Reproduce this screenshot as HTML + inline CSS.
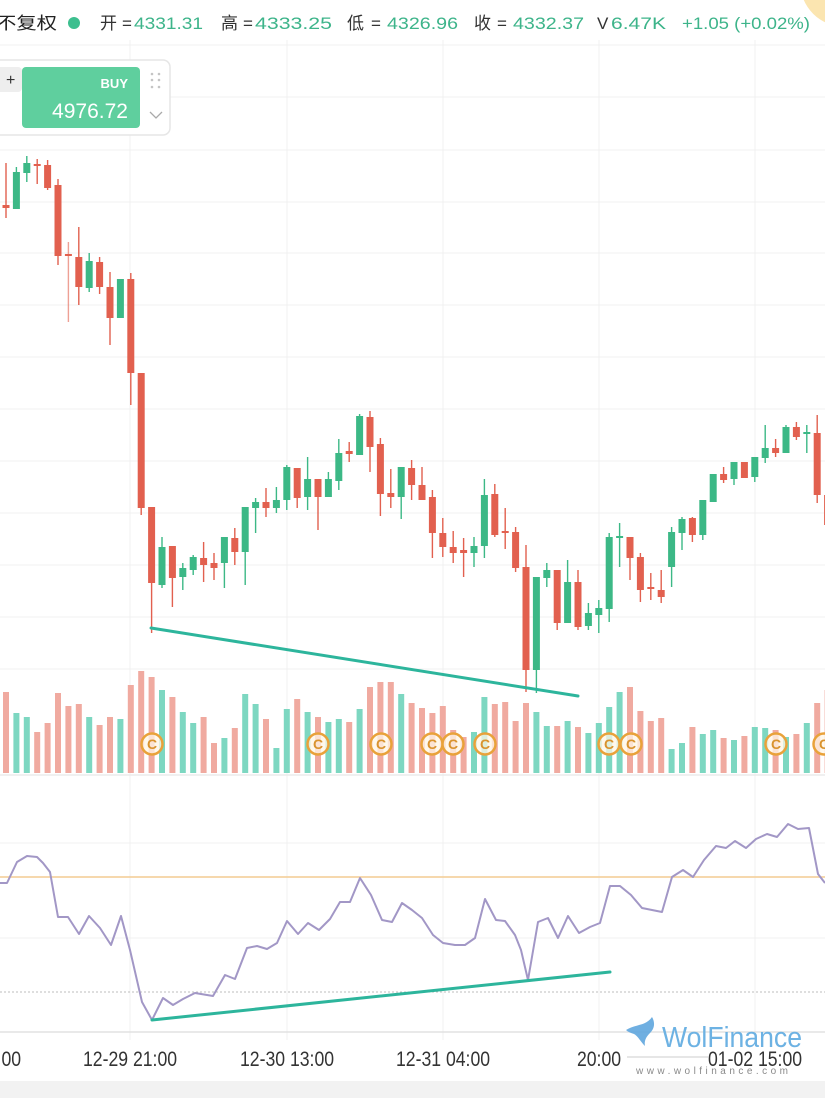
<!DOCTYPE html>
<html><head><meta charset="utf-8"><style>
html,body{margin:0;padding:0;background:#fff;}
body{width:825px;height:1098px;overflow:hidden;}
svg{display:block;}
.r{fill:#e2604f}.g{fill:#3cb886}
.vr{fill:#f0aaa0}.vg{fill:#7dd7c1}
.t{font-family:"Liberation Sans","Noto Sans CJK SC",sans-serif;}
</style></head><body>
<svg width="825" height="1098" viewBox="0 0 825 1098" xmlns="http://www.w3.org/2000/svg">
<rect width="825" height="1098" fill="#fff"/>
<!-- grid -->
<g stroke="#f1f1f1" stroke-width="1">
<line x1="0" y1="45" x2="825" y2="45"/><line x1="0" y1="97" x2="825" y2="97"/><line x1="0" y1="150" x2="825" y2="150"/><line x1="0" y1="202" x2="825" y2="202"/><line x1="0" y1="253" x2="825" y2="253"/><line x1="0" y1="305" x2="825" y2="305"/><line x1="0" y1="357" x2="825" y2="357"/><line x1="0" y1="409" x2="825" y2="409"/><line x1="0" y1="461" x2="825" y2="461"/><line x1="0" y1="513" x2="825" y2="513"/><line x1="0" y1="565" x2="825" y2="565"/><line x1="0" y1="617" x2="825" y2="617"/><line x1="0" y1="669" x2="825" y2="669"/>
<line x1="0" y1="843" x2="825" y2="843"/><line x1="0" y1="938" x2="825" y2="938"/>
<line x1="130" y1="40" x2="130" y2="1040"/><line x1="287" y1="40" x2="287" y2="1040"/><line x1="443" y1="40" x2="443" y2="1040"/><line x1="599" y1="40" x2="599" y2="1040"/><line x1="755" y1="40" x2="755" y2="1040"/>
</g>
<line x1="0" y1="775" x2="825" y2="775" stroke="#ebebeb" stroke-width="1.5"/>
<line x1="0" y1="1032" x2="825" y2="1032" stroke="#e2e2e2" stroke-width="1.5"/>

<!-- yellow corner -->
<circle cx="845" cy="-18" r="45" fill="#fbe5b0"/>

<!-- header -->
<g class="t" font-size="17">
<text x="-4" y="29" fill="#222" textLength="61" lengthAdjust="spacingAndGlyphs">不复权</text>
<circle cx="74" cy="23" r="6" fill="#3dbf8f"/>
<text x="100" y="29" fill="#333">开</text><text x="122" y="29" fill="#333">=</text>
<text x="134" y="29" fill="#3db48a" textLength="69" lengthAdjust="spacingAndGlyphs">4331.31</text>
<text x="221" y="29" fill="#333">高</text><text x="243" y="29" fill="#333">=</text>
<text x="255" y="29" fill="#3db48a" textLength="77" lengthAdjust="spacingAndGlyphs">4333.25</text>
<text x="347" y="29" fill="#333">低</text><text x="371" y="29" fill="#333">=</text>
<text x="387" y="29" fill="#3db48a" textLength="71" lengthAdjust="spacingAndGlyphs">4326.96</text>
<text x="474" y="29" fill="#333">收</text><text x="497" y="29" fill="#333">=</text>
<text x="513" y="29" fill="#3db48a" textLength="71" lengthAdjust="spacingAndGlyphs">4332.37</text>
<text x="597" y="29" fill="#333">V</text>
<text x="611" y="29" fill="#3db48a" textLength="55" lengthAdjust="spacingAndGlyphs">6.47K</text>
<text x="682" y="29" fill="#3db48a" textLength="128" lengthAdjust="spacingAndGlyphs">+1.05 (+0.02%)</text>
</g>

<!-- BUY widget -->
<rect x="-8" y="60" width="178" height="75" rx="7" fill="#fff" stroke="#e6e6e6" stroke-width="1.5"/>
<rect x="-6" y="67" width="28" height="25" rx="4" fill="#eeeeee"/>
<text x="6" y="85" class="t" font-size="16" fill="#333">+</text>
<rect x="22" y="67" width="118" height="61" rx="4" fill="#5fcf9e"/>
<rect x="-8" y="100" width="13" height="22" rx="4" fill="#fff"/>
<text x="128" y="88" class="t" font-size="13" font-weight="bold" fill="#fff" text-anchor="end">BUY</text>
<text x="52" y="118" class="t" font-size="21" fill="#fff" textLength="76" lengthAdjust="spacingAndGlyphs">4976.72</text>
<g fill="#c4c4c4"><circle cx="152" cy="74" r="1.3"/><circle cx="159" cy="74" r="1.3"/><circle cx="152" cy="80" r="1.3"/><circle cx="159" cy="80" r="1.3"/><circle cx="152" cy="87" r="1.3"/><circle cx="159" cy="87" r="1.3"/></g>
<polyline points="150,112 156,118 162,112" fill="none" stroke="#aaa" stroke-width="1.3"/>

<!-- volume -->
<g>
<rect class="vr" x="3" y="692" width="6" height="81"/>
<rect class="vg" x="13.4" y="713" width="6" height="60"/>
<rect class="vg" x="23.8" y="717" width="6" height="56"/>
<rect class="vr" x="34.2" y="732" width="6" height="41"/>
<rect class="vr" x="44.6" y="723" width="6" height="50"/>
<rect class="vr" x="55" y="693" width="6" height="80"/>
<rect class="vr" x="65.4" y="706" width="6" height="67"/>
<rect class="vr" x="75.8" y="704" width="6" height="69"/>
<rect class="vg" x="86.2" y="717" width="6" height="56"/>
<rect class="vr" x="96.6" y="725" width="6" height="48"/>
<rect class="vr" x="107" y="717" width="6" height="56"/>
<rect class="vg" x="117.4" y="719" width="6" height="54"/>
<rect class="vr" x="127.8" y="685" width="6" height="88"/>
<rect class="vr" x="138.2" y="671" width="6" height="102"/>
<rect class="vr" x="148.6" y="677" width="6" height="96"/>
<rect class="vg" x="159" y="690" width="6" height="83"/>
<rect class="vr" x="169.4" y="697" width="6" height="76"/>
<rect class="vg" x="179.8" y="712" width="6" height="61"/>
<rect class="vg" x="190.2" y="723" width="6" height="50"/>
<rect class="vr" x="200.6" y="717" width="6" height="56"/>
<rect class="vr" x="211" y="743" width="6" height="30"/>
<rect class="vg" x="221.4" y="738" width="6" height="35"/>
<rect class="vr" x="231.8" y="728" width="6" height="45"/>
<rect class="vg" x="242.2" y="694" width="6" height="79"/>
<rect class="vg" x="252.6" y="704" width="6" height="69"/>
<rect class="vr" x="263" y="719" width="6" height="54"/>
<rect class="vg" x="273.4" y="748" width="6" height="25"/>
<rect class="vg" x="283.8" y="709" width="6" height="64"/>
<rect class="vr" x="294.2" y="699" width="6" height="74"/>
<rect class="vg" x="304.6" y="712" width="6" height="61"/>
<rect class="vr" x="315" y="717" width="6" height="56"/>
<rect class="vg" x="325.4" y="722" width="6" height="51"/>
<rect class="vg" x="335.8" y="719" width="6" height="54"/>
<rect class="vr" x="346.2" y="722" width="6" height="51"/>
<rect class="vg" x="356.6" y="709" width="6" height="64"/>
<rect class="vr" x="367" y="687" width="6" height="86"/>
<rect class="vr" x="377.4" y="682" width="6" height="91"/>
<rect class="vr" x="387.8" y="682" width="6" height="91"/>
<rect class="vg" x="398.2" y="694" width="6" height="79"/>
<rect class="vr" x="408.6" y="703" width="6" height="70"/>
<rect class="vr" x="419" y="708" width="6" height="65"/>
<rect class="vr" x="429.4" y="713" width="6" height="60"/>
<rect class="vr" x="439.8" y="706" width="6" height="67"/>
<rect class="vr" x="450.2" y="730" width="6" height="43"/>
<rect class="vr" x="460.6" y="737" width="6" height="36"/>
<rect class="vg" x="471" y="732" width="6" height="41"/>
<rect class="vg" x="481.4" y="697" width="6" height="76"/>
<rect class="vr" x="491.8" y="704" width="6" height="69"/>
<rect class="vr" x="502.2" y="702" width="6" height="71"/>
<rect class="vr" x="512.6" y="721" width="6" height="52"/>
<rect class="vr" x="523" y="703" width="6" height="70"/>
<rect class="vg" x="533.4" y="712" width="6" height="61"/>
<rect class="vg" x="543.8" y="726" width="6" height="47"/>
<rect class="vr" x="554.2" y="726" width="6" height="47"/>
<rect class="vg" x="564.6" y="721" width="6" height="52"/>
<rect class="vr" x="575" y="727" width="6" height="46"/>
<rect class="vg" x="585.4" y="733" width="6" height="40"/>
<rect class="vg" x="595.8" y="723" width="6" height="50"/>
<rect class="vg" x="606.2" y="707" width="6" height="66"/>
<rect class="vg" x="616.6" y="692" width="6" height="81"/>
<rect class="vr" x="627" y="687" width="6" height="86"/>
<rect class="vr" x="637.4" y="711" width="6" height="62"/>
<rect class="vr" x="647.8" y="721" width="6" height="52"/>
<rect class="vr" x="658.2" y="718" width="6" height="55"/>
<rect class="vg" x="668.6" y="749" width="6" height="24"/>
<rect class="vg" x="679" y="743" width="6" height="30"/>
<rect class="vr" x="689.4" y="727" width="6" height="46"/>
<rect class="vg" x="699.8" y="734" width="6" height="39"/>
<rect class="vg" x="710.2" y="730" width="6" height="43"/>
<rect class="vr" x="720.6" y="738" width="6" height="35"/>
<rect class="vg" x="731" y="740" width="6" height="33"/>
<rect class="vr" x="741.4" y="736" width="6" height="37"/>
<rect class="vg" x="751.8" y="727" width="6" height="46"/>
<rect class="vg" x="762.2" y="728" width="6" height="45"/>
<rect class="vr" x="772.6" y="730" width="6" height="43"/>
<rect class="vg" x="783" y="737" width="6" height="36"/>
<rect class="vr" x="793.4" y="734" width="6" height="39"/>
<rect class="vg" x="803.8" y="723" width="6" height="50"/>
<rect class="vr" x="814.2" y="703" width="6" height="70"/>
<rect class="vr" x="824.6" y="690" width="6" height="83"/>
</g>

<!-- C markers -->
<g class="t" font-size="14" font-weight="bold" text-anchor="middle">
<g fill="#fff6e6" fill-opacity="0.75" stroke="#e9a23a" stroke-width="2.5">
<circle cx="152" cy="744" r="10.5"/><circle cx="318" cy="744" r="10.5"/><circle cx="381" cy="744" r="10.5"/><circle cx="432" cy="744" r="10.5"/><circle cx="453" cy="744" r="10.5"/><circle cx="485" cy="744" r="10.5"/><circle cx="609" cy="744" r="10.5"/><circle cx="631" cy="744" r="10.5"/><circle cx="776" cy="744" r="10.5"/><circle cx="824" cy="744" r="10.5"/>
</g>
<g fill="#d9932e">
<text x="152" y="749">C</text><text x="318" y="749">C</text><text x="381" y="749">C</text><text x="432" y="749">C</text><text x="453" y="749">C</text><text x="485" y="749">C</text><text x="609" y="749">C</text><text x="631" y="749">C</text><text x="776" y="749">C</text><text x="824" y="749">C</text>
</g>
</g>

<!-- candles -->
<g>
<rect class="r" x="2.5" y="205" width="7" height="3"/><rect class="r" x="5.3" y="163" width="1.4" height="55"/>
<rect class="g" x="12.9" y="172" width="7" height="37"/><rect class="g" x="15.7" y="167" width="1.4" height="42"/>
<rect class="g" x="23.3" y="163" width="7" height="10"/><rect class="g" x="26.1" y="156" width="1.4" height="26"/>
<rect class="r" x="33.7" y="164" width="7" height="2"/><rect class="r" x="36.5" y="159" width="1.4" height="25"/>
<rect class="r" x="44.1" y="165" width="7" height="23"/><rect class="r" x="46.9" y="160" width="1.4" height="30"/>
<rect class="r" x="54.5" y="185" width="7" height="71"/><rect class="r" x="57.3" y="179" width="1.4" height="86"/>
<rect class="r" x="64.9" y="254" width="7" height="2"/><rect class="r" x="67.7" y="242" width="1.4" height="80" opacity="0.6"/>
<rect class="r" x="75.3" y="257" width="7" height="30"/><rect class="r" x="78.1" y="227" width="1.4" height="78"/>
<rect class="g" x="85.7" y="261" width="7" height="27"/><rect class="g" x="88.5" y="253" width="1.4" height="39"/>
<rect class="r" x="96.1" y="262" width="7" height="25"/><rect class="r" x="98.9" y="257" width="1.4" height="37"/>
<rect class="r" x="106.5" y="287" width="7" height="31"/><rect class="r" x="109.3" y="272" width="1.4" height="73"/>
<rect class="g" x="116.9" y="279" width="7" height="39"/><rect class="g" x="119.7" y="279" width="1.4" height="39"/>
<rect class="r" x="127.3" y="279" width="7" height="94"/><rect class="r" x="130.1" y="273" width="1.4" height="132"/>
<rect class="r" x="137.7" y="373" width="7" height="135"/><rect class="r" x="140.5" y="373" width="1.4" height="142"/>
<rect class="r" x="148.1" y="507" width="7" height="76"/><rect class="r" x="150.9" y="507" width="1.4" height="126"/>
<rect class="g" x="158.5" y="547" width="7" height="38"/><rect class="g" x="161.3" y="537" width="1.4" height="51"/>
<rect class="r" x="168.9" y="546" width="7" height="32"/><rect class="r" x="171.7" y="546" width="1.4" height="61"/>
<rect class="g" x="179.3" y="568" width="7" height="9"/><rect class="g" x="182.1" y="563" width="1.4" height="27"/>
<rect class="g" x="189.7" y="557" width="7" height="13"/><rect class="g" x="192.5" y="555" width="1.4" height="20"/>
<rect class="r" x="200.1" y="558" width="7" height="7"/><rect class="r" x="202.9" y="542" width="1.4" height="40"/>
<rect class="r" x="210.5" y="563" width="7" height="5"/><rect class="r" x="213.3" y="553" width="1.4" height="27"/>
<rect class="g" x="220.9" y="537" width="7" height="26"/><rect class="g" x="223.7" y="537" width="1.4" height="51"/>
<rect class="r" x="231.3" y="538" width="7" height="14"/><rect class="r" x="234.1" y="528" width="1.4" height="37"/>
<rect class="g" x="241.7" y="507" width="7" height="45"/><rect class="g" x="244.5" y="507" width="1.4" height="78"/>
<rect class="g" x="252.1" y="502" width="7" height="6"/><rect class="g" x="254.9" y="498" width="1.4" height="35"/>
<rect class="r" x="262.5" y="502" width="7" height="6"/><rect class="r" x="265.3" y="488" width="1.4" height="29"/>
<rect class="g" x="272.9" y="500" width="7" height="8"/><rect class="g" x="275.7" y="487" width="1.4" height="26"/>
<rect class="g" x="283.3" y="467" width="7" height="33"/><rect class="g" x="286.1" y="465" width="1.4" height="45"/>
<rect class="r" x="293.7" y="468" width="7" height="30"/><rect class="r" x="296.5" y="468" width="1.4" height="40"/>
<rect class="g" x="304.1" y="479" width="7" height="18"/><rect class="g" x="306.9" y="457" width="1.4" height="53"/>
<rect class="r" x="314.5" y="479" width="7" height="18"/><rect class="r" x="317.3" y="479" width="1.4" height="51"/>
<rect class="g" x="324.9" y="479" width="7" height="18"/><rect class="g" x="327.7" y="472" width="1.4" height="25"/>
<rect class="g" x="335.3" y="453" width="7" height="28"/><rect class="g" x="338.1" y="439" width="1.4" height="51"/>
<rect class="r" x="345.7" y="451" width="7" height="3"/><rect class="r" x="348.5" y="442" width="1.4" height="20"/>
<rect class="g" x="356.1" y="416" width="7" height="39"/><rect class="g" x="358.9" y="414" width="1.4" height="41"/>
<rect class="r" x="366.5" y="417" width="7" height="30"/><rect class="r" x="369.3" y="411" width="1.4" height="61"/>
<rect class="r" x="376.9" y="444" width="7" height="50"/><rect class="r" x="379.7" y="438" width="1.4" height="78"/>
<rect class="r" x="387.3" y="493" width="7" height="4"/><rect class="r" x="390.1" y="469" width="1.4" height="39"/>
<rect class="g" x="397.7" y="467" width="7" height="30"/><rect class="g" x="400.5" y="467" width="1.4" height="52"/>
<rect class="r" x="408.1" y="468" width="7" height="17"/><rect class="r" x="410.9" y="460" width="1.4" height="40"/>
<rect class="r" x="418.5" y="485" width="7" height="15"/><rect class="r" x="421.3" y="467" width="1.4" height="33"/>
<rect class="r" x="428.9" y="497" width="7" height="36"/><rect class="r" x="431.7" y="490" width="1.4" height="68"/>
<rect class="r" x="439.3" y="533" width="7" height="14"/><rect class="r" x="442.1" y="518" width="1.4" height="39"/>
<rect class="r" x="449.7" y="547" width="7" height="6"/><rect class="r" x="452.5" y="531" width="1.4" height="32"/>
<rect class="r" x="460.1" y="550" width="7" height="3"/><rect class="r" x="462.9" y="538" width="1.4" height="39"/>
<rect class="g" x="470.5" y="546" width="7" height="7"/><rect class="g" x="473.3" y="537" width="1.4" height="30"/>
<rect class="g" x="480.9" y="495" width="7" height="51"/><rect class="g" x="483.7" y="479" width="1.4" height="79"/>
<rect class="r" x="491.3" y="494" width="7" height="41"/><rect class="r" x="494.1" y="484" width="1.4" height="53"/>
<rect class="r" x="501.7" y="531" width="7" height="2"/><rect class="r" x="504.5" y="508" width="1.4" height="41"/>
<rect class="r" x="512.1" y="532" width="7" height="36"/><rect class="r" x="514.9" y="527" width="1.4" height="45"/>
<rect class="r" x="522.5" y="567" width="7" height="103"/><rect class="r" x="525.3" y="545" width="1.4" height="147"/>
<rect class="g" x="532.9" y="577" width="7" height="93"/><rect class="g" x="535.7" y="577" width="1.4" height="116"/>
<rect class="g" x="543.3" y="570" width="7" height="8"/><rect class="g" x="546.1" y="563" width="1.4" height="24"/>
<rect class="r" x="553.7" y="570" width="7" height="53"/><rect class="r" x="556.5" y="570" width="1.4" height="60"/>
<rect class="g" x="564.1" y="582" width="7" height="41"/><rect class="g" x="566.9" y="560" width="1.4" height="63"/>
<rect class="r" x="574.5" y="582" width="7" height="45"/><rect class="r" x="577.3" y="570" width="1.4" height="60"/>
<rect class="g" x="584.9" y="613" width="7" height="13"/><rect class="g" x="587.7" y="603" width="1.4" height="27"/>
<rect class="g" x="595.3" y="608" width="7" height="7"/><rect class="g" x="598.1" y="600" width="1.4" height="33"/>
<rect class="g" x="605.7" y="537" width="7" height="72"/><rect class="g" x="608.5" y="533" width="1.4" height="89"/>
<rect class="g" x="616.1" y="536" width="7" height="2"/><rect class="g" x="618.9" y="523" width="1.4" height="44"/>
<rect class="r" x="626.5" y="537" width="7" height="21"/><rect class="r" x="629.3" y="537" width="1.4" height="43"/>
<rect class="r" x="636.9" y="557" width="7" height="33"/><rect class="r" x="639.7" y="553" width="1.4" height="49"/>
<rect class="r" x="647.3" y="587" width="7" height="2"/><rect class="r" x="650.1" y="573" width="1.4" height="27"/>
<rect class="r" x="657.7" y="590" width="7" height="7"/><rect class="r" x="660.5" y="570" width="1.4" height="33"/>
<rect class="g" x="668.1" y="532" width="7" height="35"/><rect class="g" x="670.9" y="527" width="1.4" height="60"/>
<rect class="g" x="678.5" y="519" width="7" height="14"/><rect class="g" x="681.3" y="517" width="1.4" height="33"/>
<rect class="r" x="688.9" y="518" width="7" height="17"/><rect class="r" x="691.7" y="517" width="1.4" height="25"/>
<rect class="g" x="699.3" y="500" width="7" height="35"/><rect class="g" x="702.1" y="500" width="1.4" height="40"/>
<rect class="g" x="709.7" y="474" width="7" height="28"/><rect class="g" x="712.5" y="474" width="1.4" height="28"/>
<rect class="r" x="720.1" y="474" width="7" height="6"/><rect class="r" x="722.9" y="467" width="1.4" height="16"/>
<rect class="g" x="730.5" y="462" width="7" height="17"/><rect class="g" x="733.3" y="462" width="1.4" height="23"/>
<rect class="r" x="740.9" y="462" width="7" height="16"/><rect class="r" x="743.7" y="462" width="1.4" height="16"/>
<rect class="g" x="751.3" y="457" width="7" height="20"/><rect class="g" x="754.1" y="457" width="1.4" height="25"/>
<rect class="g" x="761.7" y="448" width="7" height="10"/><rect class="g" x="764.5" y="425" width="1.4" height="38"/>
<rect class="r" x="772.1" y="448" width="7" height="5"/><rect class="r" x="774.9" y="439" width="1.4" height="18"/>
<rect class="g" x="782.5" y="427" width="7" height="26"/><rect class="g" x="785.3" y="425" width="1.4" height="28"/>
<rect class="r" x="792.9" y="427" width="7" height="10"/><rect class="r" x="795.7" y="422" width="1.4" height="18"/>
<rect class="g" x="803.3" y="432" width="7" height="2"/><rect class="g" x="806.1" y="425" width="1.4" height="28"/>
<rect class="r" x="813.7" y="433" width="7" height="62"/><rect class="r" x="816.5" y="415" width="1.4" height="88"/>
<rect class="r" x="824.1" y="495" width="7" height="30"/><rect class="r" x="826.9" y="490" width="1.4" height="40"/>
</g>

<!-- price trend line -->
<line x1="151" y1="628" x2="578" y2="696" stroke="#2db59c" stroke-width="3" stroke-linecap="round"/>

<!-- RSI -->
<line x1="0" y1="877" x2="825" y2="877" stroke="#f4cc92" stroke-width="1.5"/>
<line x1="0" y1="992" x2="825" y2="992" stroke="#bdbdbd" stroke-width="1" stroke-dasharray="2,2"/>
<polyline fill="none" stroke="#a297c6" stroke-width="2" stroke-linejoin="round" points="0,883 7,883 17,862 27,856 37,857 43,863 50,872 58,917 68,917 79,934 89,916 100,928 111,945 121,916 130,950 142,1002 152,1020 163,998 173,1005 183,999 195,993 213,996 225,975 235,979 247,948 257,946 267,949 277,943 287,921 298,934 308,923 319,930 330,919 340,902 350,902 360,878 371,895 382,920 392,922 402,903 412,910 422,918 433,935 443,943 455,945 465,945 475,938 485,899 496,920 505,921 515,935 521,950 528,980 538,922 548,918 558,938 568,916 579,933 590,927 600,923 610,886 620,886 631,895 642,908 652,910 662,912 672,877 683,870 693,877 704,860 716,846 726,848 735,841 746,848 756,839 767,834 777,837 788,824 798,829 809,828 818,874 825,883"/>
<line x1="152" y1="1020" x2="610" y2="972" stroke="#2db59c" stroke-width="3" stroke-linecap="round"/>

<!-- x labels -->
<g class="t" font-size="21" fill="#333" text-anchor="middle">
<text transform="translate(-26,1066) scale(0.84,1)">12-29 05:00</text>
<text transform="translate(130,1066) scale(0.84,1)">12-29 21:00</text>
<text transform="translate(287,1066) scale(0.84,1)">12-30 13:00</text>
<text transform="translate(443,1066) scale(0.84,1)">12-31 04:00</text>
<text transform="translate(599,1066) scale(0.84,1)">20:00</text>
<text transform="translate(755,1066) scale(0.84,1)">01-02 15:00</text>
</g>

<!-- watermark -->
<line x1="627" y1="1057" x2="708" y2="1057" stroke="#d8d8d8" stroke-width="1.2"/>
<path d="M626,1030 C636,1024 646,1026 652,1017 C655,1022 655,1028 650,1033 C646,1037 644,1041 645,1046 C640,1041 638,1036 634,1034 C631,1033 628,1032 626,1030 Z" fill="#5fa6de" opacity="0.9"/>
<text x="662" y="1047" class="t" font-size="29" fill="#6db2e3" textLength="140" lengthAdjust="spacingAndGlyphs">WolFinance</text>
<text x="636" y="1074" class="t" font-size="10" fill="#8a8a8a" textLength="152" lengthAdjust="spacing">www.wolfinance.com</text>

<!-- bottom band -->
<rect x="0" y="1081" width="825" height="17" fill="#f2f2f2"/>
</svg>
</body></html>
